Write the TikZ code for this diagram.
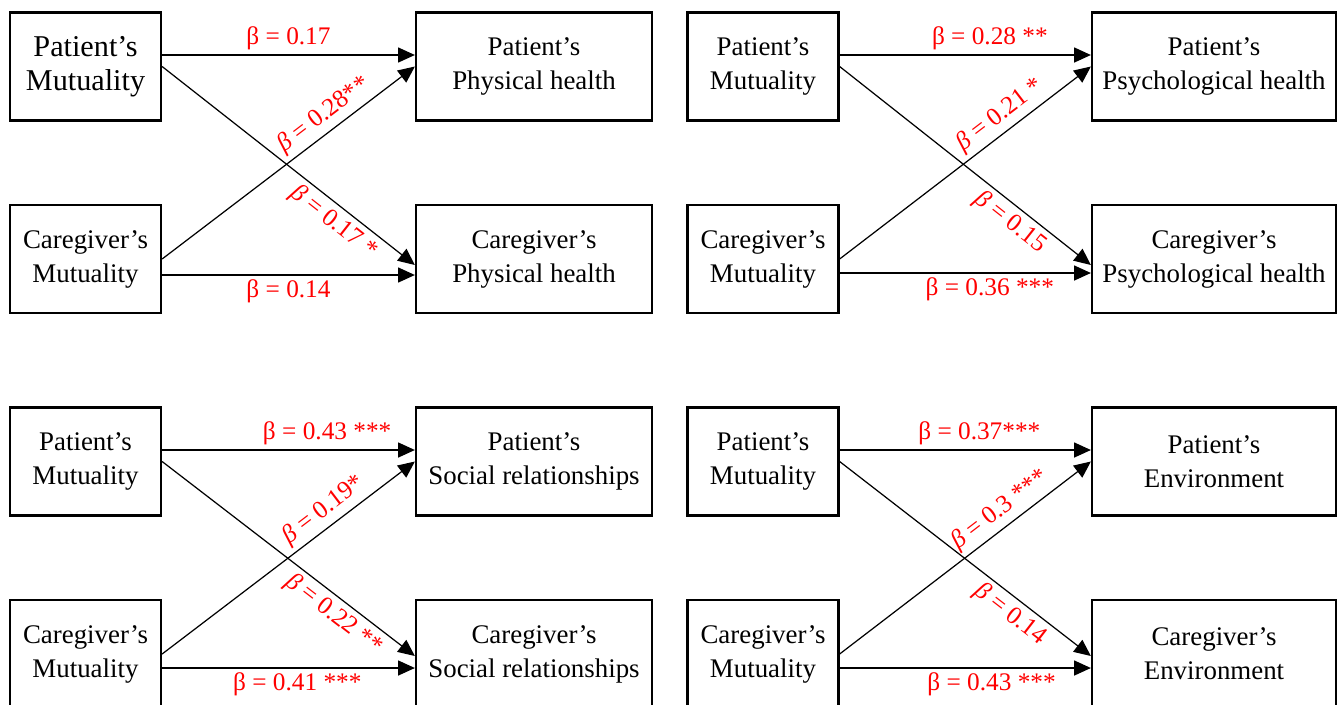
\documentclass[tikz,border=0pt]{standalone}
\usepackage{fontspec}
\setmainfont{Liberation Serif}
\usetikzlibrary{arrows.meta,calc}
\tikzset{
  varbox/.style={draw, line width=1.3pt, align=center, inner sep=0pt, minimum height=2.16cm, font=\fontsize{15.3}{19.3}\selectfont, execute at begin node={\rule{0pt}{15pt}}},
  mutbox/.style={varbox, minimum width=3.02cm},
  outbox/.style={varbox, minimum width=4.72cm},
  widebox/.style={varbox, minimum width=4.88cm},
  arr/.style={-{Triangle[length=9.5pt,width=8.5pt]}, line width=0.7pt},
  coef/.style={text=red, inner sep=2.5pt, font=\fontsize{14.4}{16}\selectfont}
}
\begin{document}
\begin{tikzpicture}[x=0.02cm, y=-0.02cm]
\clip (0,0) rectangle (1338,704);
% physical health
\node[mutbox, font=\fontsize{17.2}{19.3}\selectfont] (pmut1) at (85.5,66.5) {Patient’s\\ Mutuality};
\node[mutbox] (cmut1) at (85.5,259) {Caregiver’s\\ Mutuality};
\node[outbox] (pout1) at (534,66.5) {Patient’s\\ Physical health};
\node[outbox] (cout1) at (534,259) {Caregiver’s\\ Physical health};
\draw[arr] ($(pmut1.east)+(0,-11.5)$) -- ($(pout1.west)+(0,-11.5)$) node[midway, above, coef] {β = 0.17};
\draw[arr] (cmut1.east) -- (pout1.west) node[pos=0.68, sloped, above, coef] {\textit{β} = 0.28**};
\draw[arr] (pmut1.east) -- ($(cout1.west)+(0,6)$) node[pos=0.72, sloped, below, coef] {\textit{β} = 0.17 *};
\draw[arr] ($(cmut1.east)+(0,16)$) -- ($(cout1.west)+(0,16)$) node[midway, below, coef] {β = 0.14};
% psychological health
\node[mutbox] (pmut2) at (763,66.5) {Patient’s\\ Mutuality};
\node[mutbox] (cmut2) at (763,259) {Caregiver’s\\ Mutuality};
\node[widebox] (pout2) at (1214,66.5) {Patient’s\\ Psychological health};
\node[widebox] (cout2) at (1214,259) {Caregiver’s\\ Psychological health};
\draw[arr] ($(pmut2.east)+(0,-11.5)$) -- ($(pout2.west)+(0,-11.5)$) node[midway, above, coef, xshift=14] {β = 0.28 **};
\draw[arr] (cmut2.east) -- (pout2.west) node[pos=0.68, sloped, above, coef] {\textit{β} = 0.21 *};
\draw[arr] (pmut2.east) -- ($(cout2.west)+(0,6)$) node[pos=0.72, sloped, below, coef] {\textit{β} = 0.15};
\draw[arr] ($(cmut2.east)+(0,14)$) -- ($(cout2.west)+(0,14)$) node[midway, below, coef, xshift=14] {β = 0.36 ***};
% social relationships
\node[mutbox] (pmut3) at (85.5,461.5) {Patient’s\\ Mutuality};
\node[mutbox] (cmut3) at (85.5,654) {Caregiver’s\\ Mutuality};
\node[outbox] (pout3) at (534,461.5) {Patient’s\\ Social relationships};
\node[outbox] (cout3) at (534,654) {Caregiver’s\\ Social relationships};
\draw[arr] ($(pmut3.east)+(0,-11.5)$) -- ($(pout3.west)+(0,-11.5)$) node[midway, above, coef, xshift=22] {β = 0.43 ***};
\draw[arr] (cmut3.east) -- (pout3.west) node[pos=0.68, sloped, above, coef] {\textit{β} = 0.19*};
\draw[arr] (pmut3.east) -- ($(cout3.west)+(0,2)$) node[pos=0.72, sloped, below, coef] {\textit{β} = 0.22 **};
\draw[arr] ($(cmut3.east)+(0,14)$) -- ($(cout3.west)+(0,14)$) node[midway, below, coef, xshift=5] {β = 0.41 ***};
% environment
\node[mutbox] (pmut4) at (763,461.5) {Patient’s\\ Mutuality};
\node[mutbox] (cmut4) at (763,654) {Caregiver’s\\ Mutuality};
\node[widebox] (pout4) at (1214,461.5) {Patient’s\\ Environment};
\node[widebox] (cout4) at (1214,654) {Caregiver’s\\ Environment};
\draw[arr] ($(pmut4.east)+(0,-11.5)$) -- ($(pout4.west)+(0,-11.5)$) node[midway, above, coef, xshift=8] {β = 0.37***};
\draw[arr] (cmut4.east) -- (pout4.west) node[pos=0.68, sloped, above, coef] {\textit{β} = 0.3 ***};
\draw[arr] (pmut4.east) -- ($(cout4.west)+(0,2)$) node[pos=0.72, sloped, below, coef] {\textit{β} = 0.14};
\draw[arr] ($(cmut4.east)+(0,14)$) -- ($(cout4.west)+(0,14)$) node[midway, below, coef, xshift=15] {β = 0.43 ***};
\end{tikzpicture}
\end{document}
